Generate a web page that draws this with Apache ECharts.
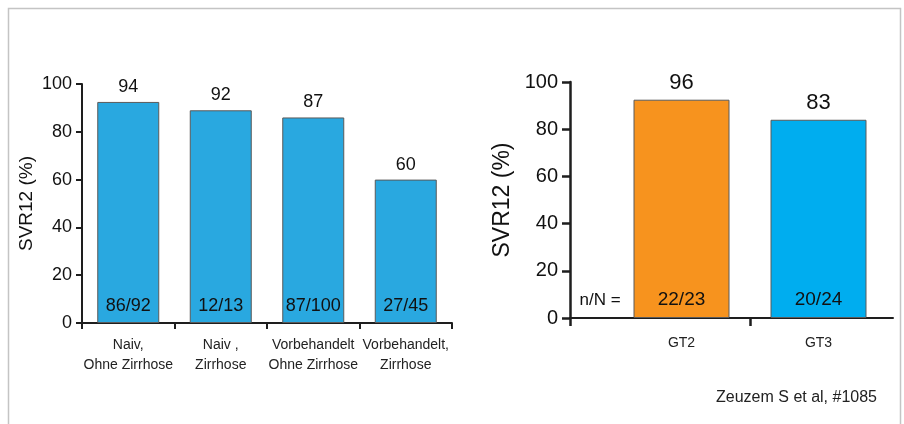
<!DOCTYPE html>
<html>
<head>
<meta charset="utf-8">
<script src="https://cdn.jsdelivr.net/npm/echarts@6/dist/echarts.min.js"></script>
<style>
html,body{margin:0;padding:0;background:#fff;}
#c{width:904px;height:424px;}
</style>
</head>
<body>
<div id="c"></div>
<script>
// ---- data (left panel) ----
const groupCategories = ['Naiv,\nOhne Zirrhose', 'Naiv ,\nZirrhose', 'Vorbehandelt\nOhne Zirrhose', 'Vorbehandelt,\nZirrhose'];
const groupBarHeights = [92.5, 89, 86, 60];      // bar heights as drawn
const groupLabels = ['94', '92', '87', '60'];    // printed SVR12 values
const groupNN = ['86/92', '12/13', '87/100', '27/45'];
// ---- data (right panel) ----
const gtCategories = ['GT2', 'GT3'];
const gtBarHeights = [92.5, 84];
const gtLabels = ['96', '83'];
const gtNN = ['22/23', '20/24'];
const yTicks = [0, 20, 40, 60, 80, 100];
const yAxisTitle = 'SVR12 (%)';
const nNPrefix = 'n/N =';
const citation = 'Zeuzem S et al, #1085';

const FONT = "'Liberation Sans', Arial, Helvetica, sans-serif";
const AX = '#1e1e1e';
const leftBlue = '#29a8e0', orange = '#f7931e', rightBlue = '#00adef';

// right panel layout: axis frame grid and (narrower) bar grid
const R_LEFT = 570, R_WIDTH = 323, B_LEFT = 613, B_WIDTH = 274;
const midBoundary = (B_LEFT + B_WIDTH / gtCategories.length - R_LEFT) / R_WIDTH;

const chart = echarts.init(document.getElementById('c'), null, {renderer: 'canvas'});

function yAxisBase(grid, fs, tickLen, name, nameFs, nameGap, lw) {
  return {
    type: 'value', gridIndex: grid, min: yTicks[0], max: yTicks[yTicks.length - 1], interval: 20,
    axisLine: {show: true, lineStyle: {color: AX, width: lw}},
    axisTick: {show: true, length: tickLen, lineStyle: {color: AX, width: lw}},
    axisLabel: {fontSize: fs, color: '#111', fontFamily: FONT, margin: tickLen + 4},
    splitLine: {show: false},
    name: name, nameLocation: 'middle', nameGap: nameGap, nameRotate: 90,
    nameTextStyle: {fontSize: nameFs, color: '#111', fontFamily: FONT}
  };
}

const option = {
  animation: false,
  backgroundColor: '#fff',
  textStyle: {fontFamily: FONT},
  grid: [
    {left: 82, width: 370, top: 84, height: 239},
    {left: R_LEFT, width: R_WIDTH, top: 82, height: 236},
    {left: B_LEFT, width: B_WIDTH, top: 82, height: 236}
  ],
  xAxis: [
    {
      type: 'category', gridIndex: 0, data: groupCategories,
      axisLine: {show: true, lineStyle: {color: AX, width: 2}},
      axisTick: {show: true, length: 6, lineStyle: {color: AX, width: 2}},
      axisLabel: {fontSize: 14, lineHeight: 20, color: '#222', fontFamily: FONT, margin: 12, interval: 0}
    },
    {
      type: 'value', gridIndex: 1, min: 0, max: 1,
      axisLine: {show: true, lineStyle: {color: AX, width: 2}},
      axisTick: {show: true, length: 8, customValues: [0, midBoundary], lineStyle: {color: AX, width: 2.5}},
      axisLabel: {show: false}, splitLine: {show: false}
    },
    {
      type: 'category', gridIndex: 2, data: gtCategories,
      axisLine: {show: false},
      axisTick: {show: false},
      axisLabel: {fontSize: 14, color: '#222', fontFamily: FONT, margin: 18}
    }
  ],
  yAxis: [
    yAxisBase(0, 18, 6, yAxisTitle, 19, 46, 2),
    yAxisBase(1, 20, 8, yAxisTitle, 23, 56, 2.5),
    Object.assign(yAxisBase(2, 20, 8, '', 12, 10, 2), {show: false})
  ],
  series: [
    {
      type: 'bar', xAxisIndex: 0, yAxisIndex: 0, data: groupBarHeights, barWidth: 62,
      itemStyle: {color: leftBlue, borderColor: '#5a5a5a', borderWidth: 1},
      label: {show: true, position: 'top', distance: 6, fontSize: 18, color: '#111', fontFamily: FONT,
        formatter: p => groupLabels[p.dataIndex]}
    },
    {
      type: 'bar', xAxisIndex: 0, yAxisIndex: 0, data: groupBarHeights, barWidth: 62, barGap: '-100%',
      itemStyle: {color: 'rgba(0,0,0,0)'}, silent: true,
      label: {show: true, position: 'insideBottom', distance: 8, fontSize: 18, color: '#111', fontFamily: FONT,
        formatter: p => groupNN[p.dataIndex]}
    },
    {
      type: 'bar', xAxisIndex: 2, yAxisIndex: 2, barWidth: 96,
      data: gtBarHeights.map((v, i) => ({value: v, itemStyle: {color: i === 0 ? orange : rightBlue}})),
      itemStyle: {borderColor: '#5a5a5a', borderWidth: 1},
      label: {show: true, position: 'top', distance: 6, fontSize: 22, color: '#111', fontFamily: FONT,
        formatter: p => gtLabels[p.dataIndex]}
    },
    {
      type: 'bar', xAxisIndex: 2, yAxisIndex: 2, barWidth: 96, barGap: '-100%', silent: true,
      data: gtBarHeights, itemStyle: {color: 'rgba(0,0,0,0)'},
      label: {show: true, position: 'insideBottom', distance: 9, fontSize: 19, color: '#111', fontFamily: FONT,
        formatter: p => gtNN[p.dataIndex]}
    }
  ],
  graphic: [
    {type: 'rect', shape: {x: 8.5, y: 8.5, width: 892, height: 440}, style: {fill: 'none', stroke: '#c4c4c4', lineWidth: 1.5}, silent: true, z: -1},
    {type: 'text', x: 600, y: 300, style: {text: nNPrefix, fill: '#111', font: '17px ' + FONT, textAlign: 'center', textVerticalAlign: 'middle'}},
    {type: 'text', x: 877, y: 398, style: {text: citation, fill: '#222', font: '16px ' + FONT, textAlign: 'right', textVerticalAlign: 'middle'}}
  ]
};
chart.setOption(option);
</script>
</body>
</html>
